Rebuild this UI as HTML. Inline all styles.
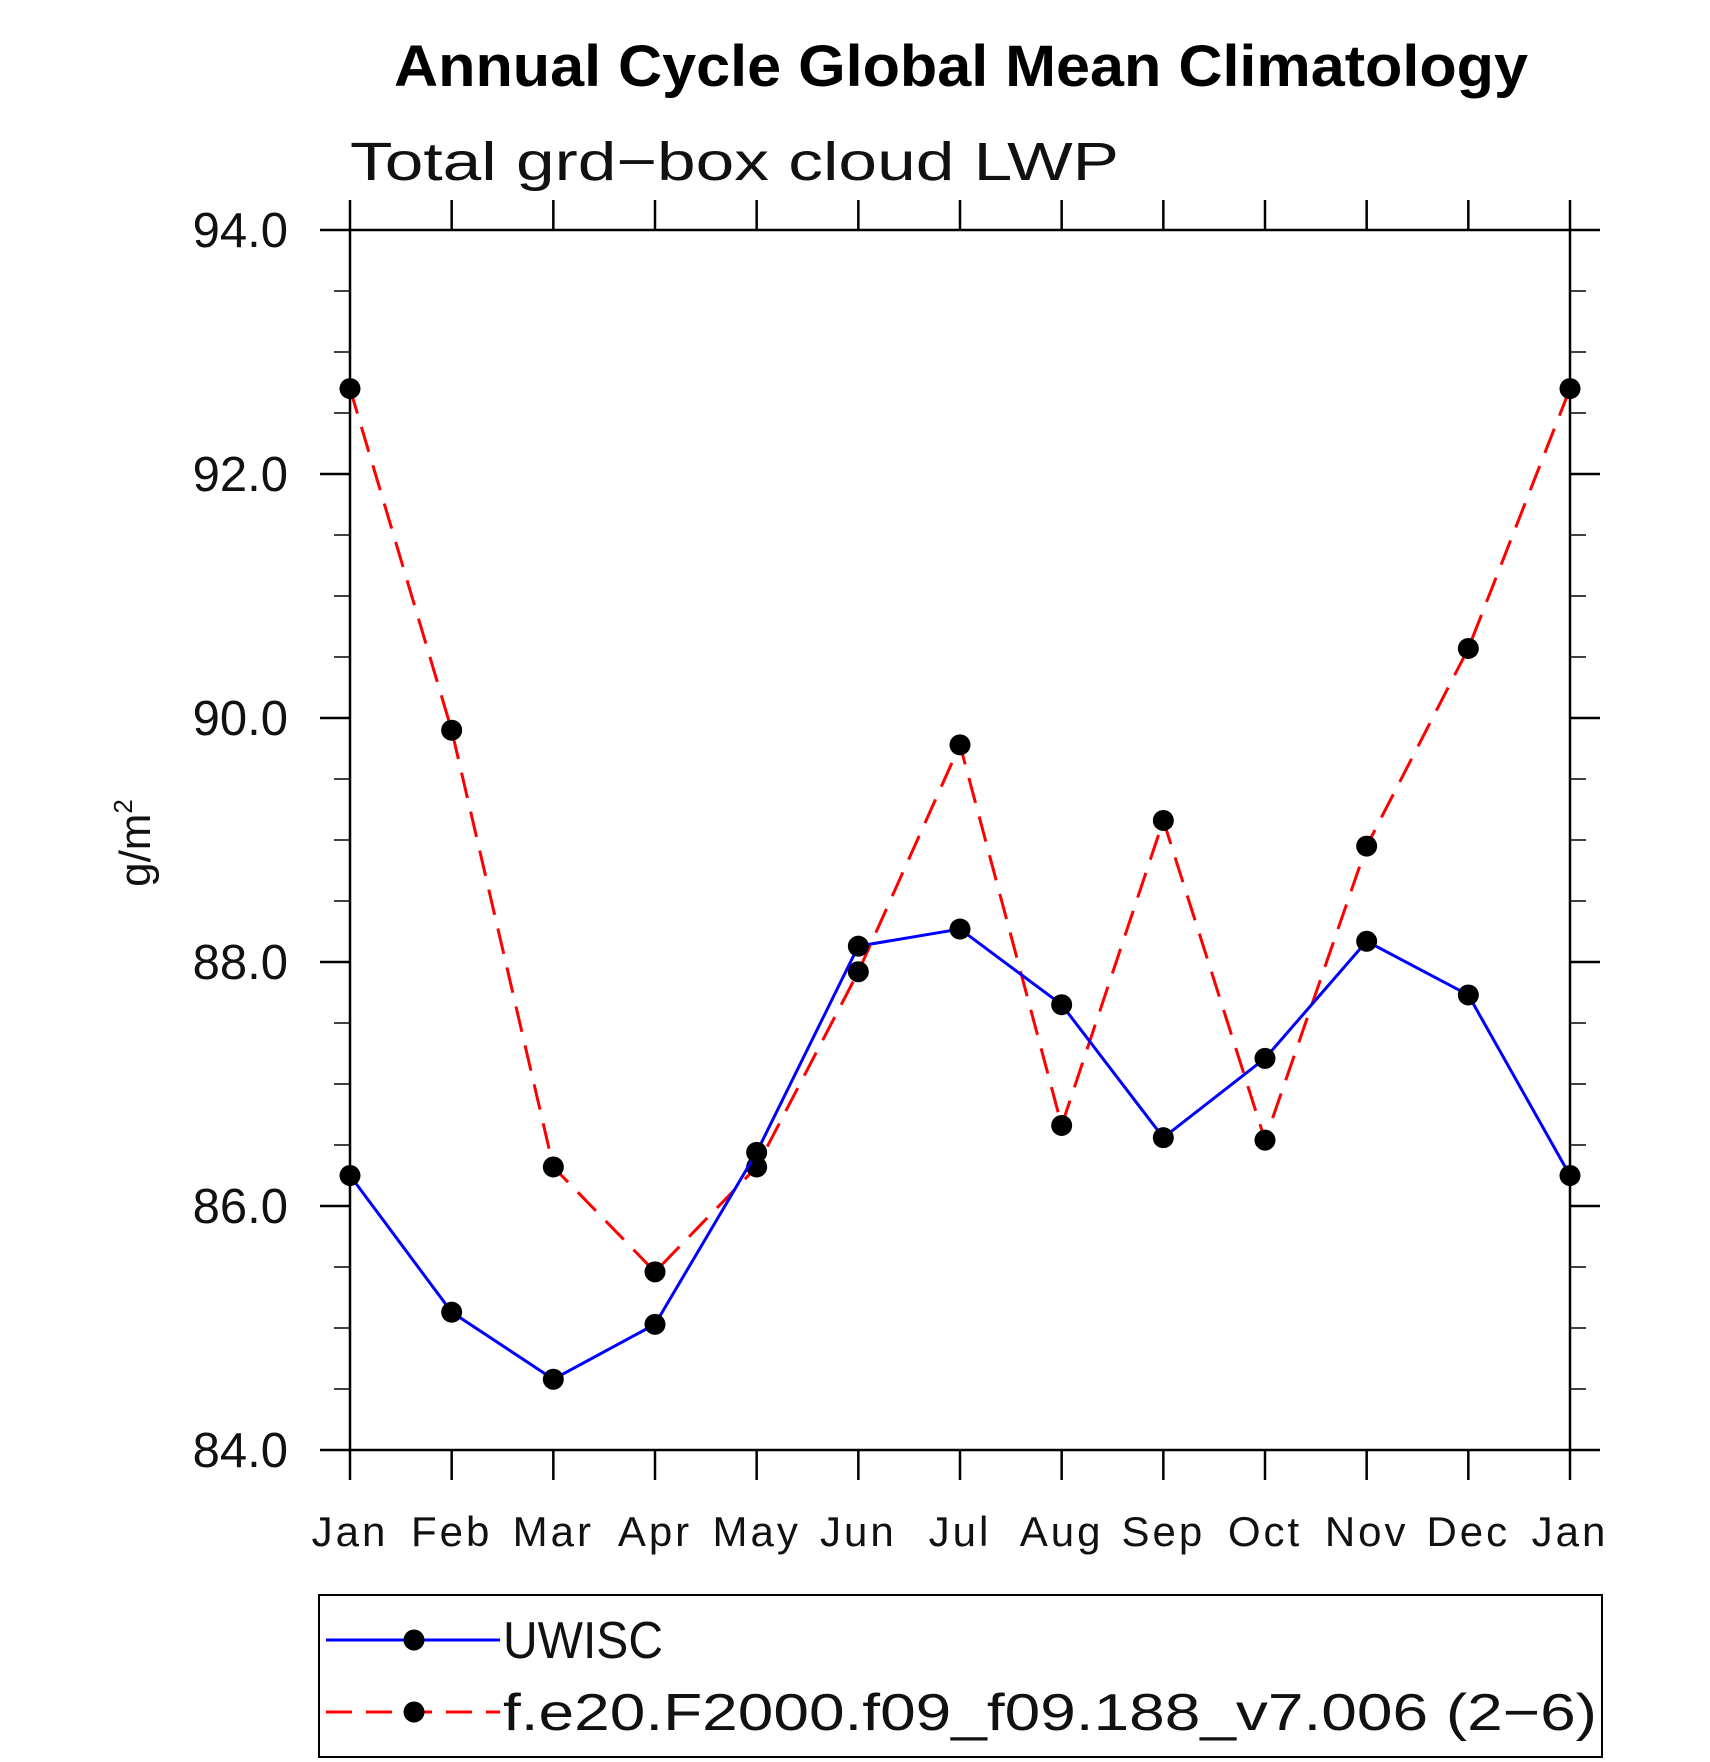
<!DOCTYPE html>
<html><head><meta charset="utf-8"><style>
html,body{margin:0;padding:0;background:#fff}
svg{display:block}
text{font-family:"Liberation Sans",sans-serif}
</style></head><body>
<svg id="chart" width="1710" height="1762" viewBox="0 0 1710 1762">
<text x="961" y="86" font-size="58" font-weight="bold" text-anchor="middle" textLength="1134" lengthAdjust="spacingAndGlyphs">Annual Cycle Global Mean Climatology</text>
<text x="350" y="180" font-size="54" font-weight="300" textLength="769" lengthAdjust="spacingAndGlyphs" fill="#111">Total grd−box cloud LWP</text>
<text transform="translate(150,843) rotate(-90)" font-size="44" text-anchor="middle" fill="#111">g/m<tspan dy="-18" font-size="26">2</tspan></text>
<g id="axes"></g>
<g id="series"></g>
<rect x="319" y="1595" width="1283" height="162" fill="none" stroke="#000" stroke-width="2"/>
<g>
<line x1="326" y1="1640" x2="500" y2="1640" stroke="#0000ff" stroke-width="3"/>
<circle cx="414" cy="1640" r="10.5" fill="#000"/>
<text x="503" y="1658" font-size="52" textLength="160" lengthAdjust="spacingAndGlyphs" fill="#111">UWISC</text>
</g>
<g>
<line x1="326" y1="1712" x2="500" y2="1712" stroke="#ff0000" stroke-width="3" stroke-dasharray="26,14"/>
<circle cx="414" cy="1712" r="10.5" fill="#000"/>
<text x="503" y="1730" font-size="52" textLength="1094" lengthAdjust="spacingAndGlyphs" fill="#111">f.e20.F2000.f09_f09.188_v7.006 (2−6)</text>
</g>
</svg>
<script>
const months = ["Jan","Feb","Mar","Apr","May","Jun","Jul","Aug","Sep","Oct","Nov","Dec","Jan"];
const uwisc = [86.25,85.13,84.58,85.03,86.44,88.13,88.27,87.65,86.56,87.21,88.17,87.73,86.25];
const model = [92.70,89.90,86.32,85.46,86.32,87.92,89.78,86.66,89.16,86.54,88.95,90.57,92.70];
const yTicks = [84,86,88,90,92,94];
const yTickLabels = ["84.0","86.0","88.0","90.0","92.0","94.0"];

const NS="http://www.w3.org/2000/svg";
const L=350,R=1570,T=230,B=1450,yMin=84,yMax=94;
function xs(i){return L+(R-L)*i/(months.length-1);}
function ys(v){return B-(v-yMin)/(yMax-yMin)*(B-T);}
function mk(tag,attrs,parent){const e=document.createElementNS(NS,tag);for(const k in attrs)e.setAttribute(k,attrs[k]);parent.appendChild(e);return e;}
const ax=document.getElementById('axes');
const frame=mk('rect',{x:L,y:T,width:R-L,height:B-T,fill:'none',stroke:'#000','stroke-width':2.5},ax);


months.forEach((m,i)=>{
  const x=xs(i);
  mk('line',{x1:x,y1:T-30,x2:x,y2:T,stroke:'#000','stroke-width':2.5},ax);
  mk('line',{x1:x,y1:B,x2:x,y2:B+30,stroke:'#000','stroke-width':2.5},ax);
  const t=mk('text',{x:x,y:B+96,'font-size':42,'text-anchor':'middle','letter-spacing':3,fill:'#111'},ax);
  t.textContent=m;
  
  
});
yTicks.forEach((v,i)=>{
  const y=ys(v);
  mk('line',{x1:L-30,y1:y,x2:L,y2:y,stroke:'#000','stroke-width':2.5},ax);
  mk('line',{x1:R,y1:y,x2:R+30,y2:y,stroke:'#000','stroke-width':2.5},ax);
  const t=mk('text',{x:288,y:y+17,'font-size':49,'text-anchor':'end',fill:'#111'},ax);
  t.textContent=yTickLabels[i];
  
  
});
for(let v=yMin+0.5;v<yMax;v+=0.5){
  if(Math.abs(v-Math.round(v/2)*2)<1e-6) continue;
  const y=ys(v);
  mk('line',{x1:L-16,y1:y,x2:L,y2:y,stroke:'#000','stroke-width':1.5},ax);
  mk('line',{x1:R,y1:y,x2:R+16,y2:y,stroke:'#000','stroke-width':1.5},ax);
}
const sg=document.getElementById('series');
function drawSeries(vals,color,dash,name){
  const g=mk('g',{},sg);
  
  
  const pts=vals.map((v,i)=>xs(i)+','+ys(v)).join(' ');
  const pl=mk('polyline',{points:pts,fill:'none',stroke:color,'stroke-width':3,'stroke-dasharray':dash},g);
  
  
  vals.forEach((v,i)=>{
    const c=mk('circle',{cx:xs(i),cy:ys(v),r:10.5,fill:'#000'},g);
    
    
  });
}
drawSeries(model,'#ff0000','26,14','model-series');
drawSeries(uwisc,'#0000ff','none','uwisc-series');
</script>
</body></html>
